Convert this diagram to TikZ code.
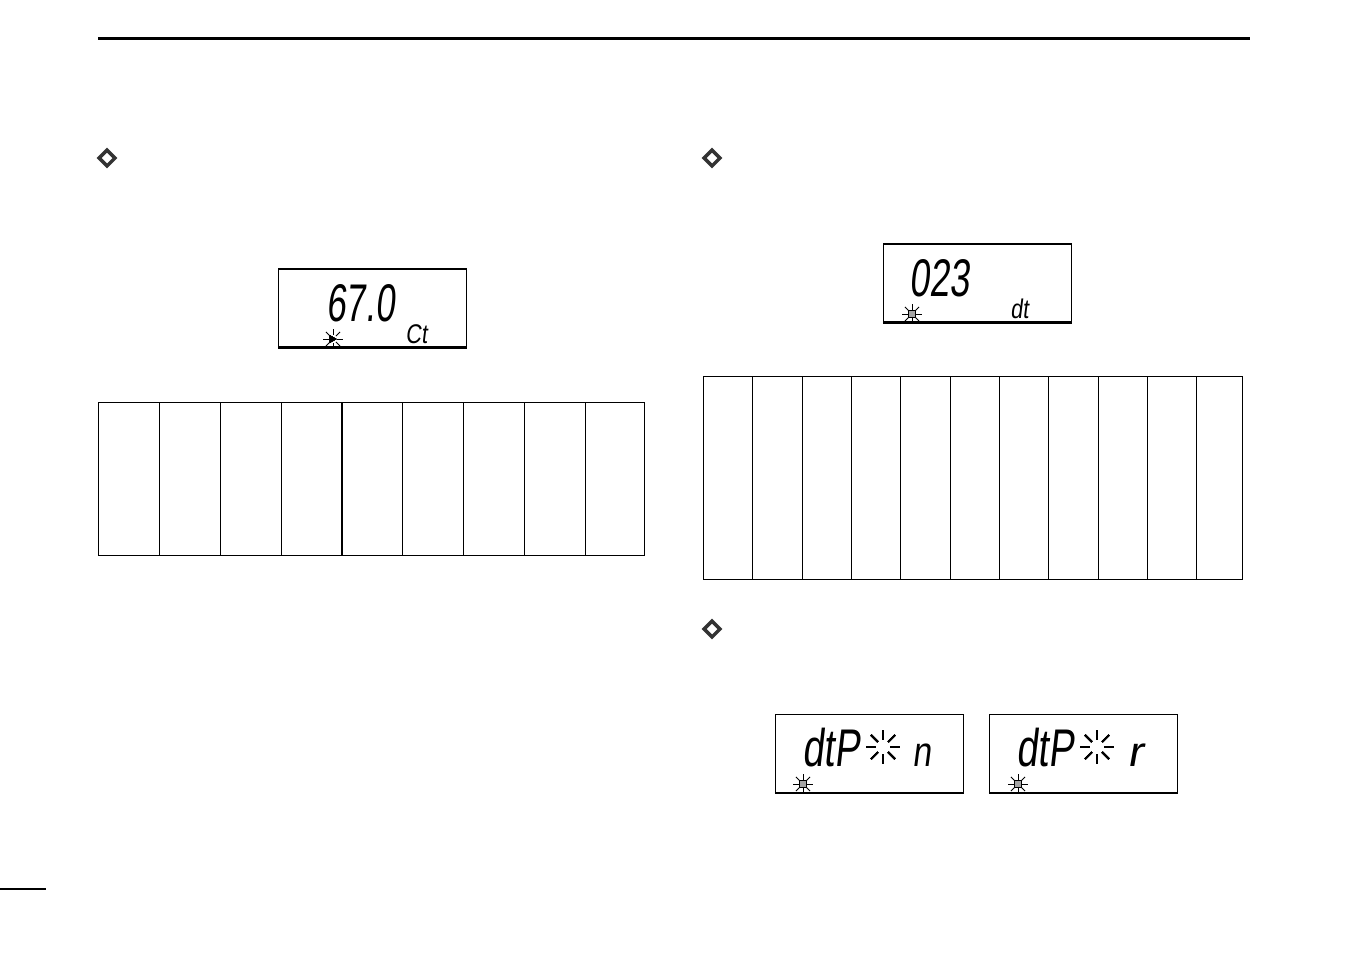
\documentclass[tikz,border=0pt]{standalone}
\usepackage{fontspec}
\newfontfamily\lcdfont[FakeSlant=0.16]{Liberation Sans}
\usetikzlibrary{shapes.geometric}
\def\lcd#1#2{\scalebox{#1}[1]{\lcdfont #2}}
\def\blink#1#2#3{\foreach \a in {0,45,...,315} \draw[line width=#3pt] (#1) ++(\a:#2*0.42) -- ++(\a:#2*0.58);}
\begin{document}
\begin{tikzpicture}[x=0.5pt,y=-0.5pt,line cap=butt,
		bullet/.style={diamond,draw=black!80,line width=1.7pt,minimum size=8.6pt,inner sep=0pt},
		lcdbox/.style={draw,line width=0.6pt,minimum width=94pt,minimum height=39pt,inner sep=0pt},
		bigdigits/.style={anchor=base west,inner sep=0pt,font=\fontsize{26.5pt}{26.5pt}\selectfont},
		smalldigits/.style={anchor=base west,inner sep=0pt,font=\fontsize{13.5pt}{13.5pt}\selectfont},
		rule/.style={line width=0.35pt}]
		\useasboundingbox (0,0) rectangle (1352,954);
		
		% page rules
		\draw[line width=1.5pt] (98,38) -- (1250,38);
		\draw[line width=0.8pt] (0,889) -- (46,889);
		
		\node[bullet] (M1) at (107,158) {};
		\node[bullet] (M2) at (712,158) {};
		\node[bullet] (M3) at (712,629) {};
		
		% tables
		\draw[rule] (98.5,402.5) rectangle (644.5,555.5);
		\foreach \x in {159.5,220.5,281.5,402.5,463.5,524.5,585.5}
			\draw[rule] (\x,402.5) -- (\x,555.5);
		\draw[line width=0.7pt] (342,402.5) -- (342,555.5);
		\draw[rule] (703.5,376.5) rectangle (1242.5,579.5);
		\foreach \x in {752.5,802.5,851.5,900.5,950.5,999.5,1048.5,1098.5,1147.5,1196.5}
			\draw[rule] (\x,376.5) -- (\x,579.5);
		
		% displays
		\node[lcdbox] (A) at (372.5,308) {};
		\node[lcdbox] (B) at (977.5,283) {};
		\node[lcdbox] (C) at (869.5,753.5) {};
		\node[lcdbox] (D) at (1083.5,753.5) {};
		\foreach \n in {A,B,C,D}
			\draw[line width=1pt] (\n.south west) -- (\n.south east);
		
		\node[bigdigits] (Aval) at (326,321) {\lcd{0.66}{67.0}};
		\node[smalldigits] (Aunit) at (405,343) {\lcd{0.8}{Ct}};
		\node[bigdigits] (Bval) at (909,296) {\lcd{0.68}{023}};
		\node[smalldigits] (Bunit) at (1010,318) {\lcd{0.8}{dt}};
		\node[bigdigits] (Cval) at (802,766) {\lcd{0.72}{dtP}};
		\node[bigdigits] (Cmode) at (912,766) {\lcd{0.8}{\fontsize{21pt}{21pt}\selectfont n}};
		\node[bigdigits] (Dval) at (1016,766) {\lcd{0.72}{dtP}};
		\node[bigdigits] (Dmode) at (1127,766) {\lcd{1.1}{\fontsize{21pt}{21pt}\selectfont r}};
		
		% blinking marks
		\coordinate (Ab) at (333,339);
		\coordinate (Bb) at (912,314);
		\coordinate (Cb) at (803,784);
		\coordinate (Db) at (1018,784);
		\coordinate (Cs) at (883,747);
		\coordinate (Ds) at (1097,747);
		\foreach \p in {Ab,Bb,Cb,Db}
			\blink{\p}{10}{0.5}
		\foreach \p in {Cs,Ds}
			\blink{\p}{17}{0.9}
		\fill (329.5,335) -- (336.5,339) -- (329.5,343) -- cycle;
		\foreach \p in {Bb,Cb,Db}
			\draw[line width=0.5pt,fill=black!35] (\p) ++(-3.5,-3.5) rectangle ++(7,7);
	\end{tikzpicture}
\end{document}
